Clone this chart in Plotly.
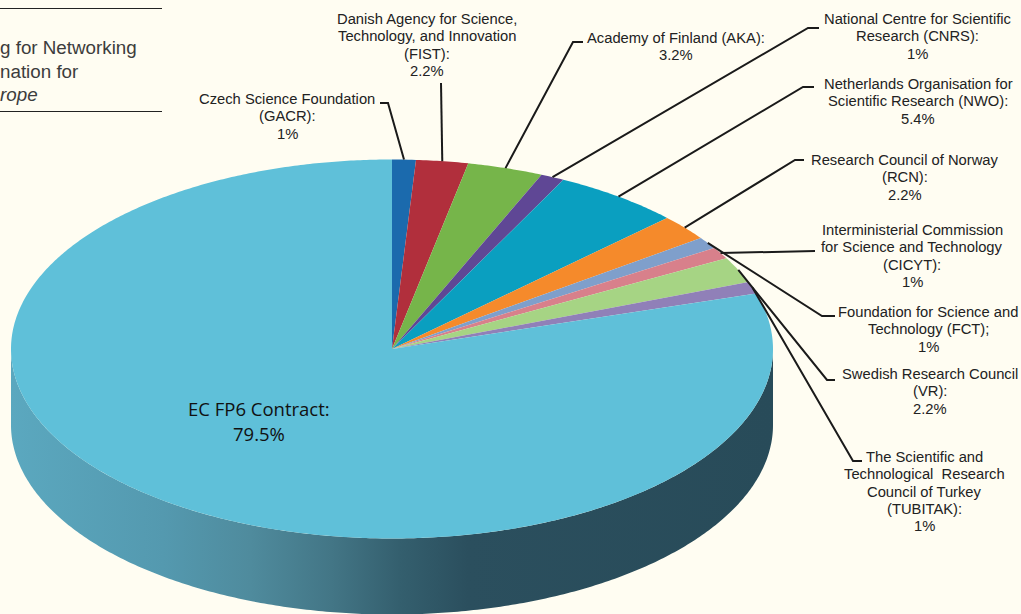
import numpy as np
import plotly.graph_objects as go

# ---- data ----
categories = ["Czech Science Foundation (GACR)", "Danish Agency for Science, Technology, and Innovation (FIST)",
              "Academy of Finland (AKA)", "National Centre for Scientific Research (CNRS)",
              "Netherlands Organisation for Scientific Research (NWO)", "Research Council of Norway (RCN)",
              "Interministerial Commission for Science and Technology (CICYT)",
              "Foundation for Science and Technology (FCT)", "Swedish Research Council (VR)",
              "The Scientific and Technological Research Council of Turkey (TUBITAK)", "EC FP6 Contract"]
values = [1, 2.2, 3.2, 1, 5.4, 2.2, 1, 1, 2.2, 1, 79.5]
label_texts = [
    ["Czech Science Foundation", "(GACR):", "1%"],
    ["Danish Agency for Science,", "Technology, and Innovation", "(FIST):", "2.2%"],
    ["Academy of Finland (AKA):", "3.2%"],
    ["National Centre for Scientific", "Research (CNRS):", "1%"],
    ["Netherlands Organisation for", "Scientific Research (NWO):", "5.4%"],
    ["Research Council of Norway", "(RCN):", "2.2%"],
    ["Interministerial Commission", "for Science and Technology", "(CICYT):", "1%"],
    ["Foundation for Science and", "Technology (FCT);", "1%"],
    ["Swedish Research Council", "(VR):", "2.2%"],
    ["The Scientific and", "Technological&nbsp; Research", "Council of Turkey", "(TUBITAK):", "1%"],
]
center_label = ["EC FP6 Contract:", "79.5%"]
sidebar_lines = ["g for Networking", "nation for", "<i>rope</i>"]

# ---- styles and layout ----
colors = ["#1b6aad", "#b12f3c", "#76b54a", "#5f4795", "#0a9fc0", "#f58a2b",
          "#7f9fcb", "#d8808b", "#a6d484", "#9080b8", "#5fc0d9"]
BG = "#fffdf2"
CX, CY, RX, RY, DEPTH = 392, 349, 381, 189.5, 76
side_scale = [[0, "#5ba8bf"], [0.2, "#5499af"], [0.314, "#4f8b9d"], [0.42, "#437686"],
              [0.51, "#345f6e"], [0.6, "#2b4f5e"], [1, "#284b59"]]
LINE_GAP = 17.3
label_pos = [(287, 99), (427, 19), (676, 38), (917, 19), (918, 84), (905, 160),
             (912, 230), (928, 312), (930, 374), (924, 457)]
# elbow polyline outside the pie; slice on whose rim the leader lands
leader_tail = [[(380, 103), (388, 103)], [(441, 83)], [(583, 42), (573, 42)], [(819, 28), (808, 28)],
               [(814, 87), (803, 87)], [(804, 160), (795, 160)], [(815, 251)],
               [(835, 316), (822, 316)], [(835, 380), (827, 380)], [(862, 461), (853, 461)]]
leader_slice = [0, 1, 2, 3, 4, 5, 7, 6, 8, 9]

# ---- geometry derived from values ----
edges = np.cumsum([0] + values) / sum(values) * 2 * np.pi


def rim(t):
    return CX + RX * np.sin(t), CY - RY * np.cos(t)


fig = go.Figure()

# side wall (lower half of the ellipse, extruded)
t_low = np.linspace(np.pi / 2, 3 * np.pi / 2, 300)
x_low, y_low = rim(t_low)
fig.add_trace(go.Scatter(
    x=np.r_[x_low, x_low[::-1]], y=np.r_[y_low, (y_low + DEPTH)[::-1]],
    mode="none", fill="toself", hoverinfo="skip", fillcolor="#3f7283",
    fillgradient=dict(type="horizontal", colorscale=side_scale)))

# top face
for i, name in enumerate(categories):
    t = np.linspace(edges[i], edges[i + 1], max(4, int((edges[i + 1] - edges[i]) * 120)))
    xr, yr = rim(t)
    fig.add_trace(go.Scatter(
        x=np.r_[CX, xr, CX], y=np.r_[CY, yr, CY], name=name, mode="none",
        fill="toself", fillcolor=colors[i], hoverinfo="name"))

# leaders
for i, tail in enumerate(leader_tail):
    k = leader_slice[i]
    sx, sy = rim((edges[k] + edges[k + 1]) / 2)
    xs = [p[0] for p in tail] + [float(sx)]
    ys = [p[1] for p in tail] + [float(sy)]
    fig.add_trace(go.Scatter(x=xs, y=ys, mode="lines", hoverinfo="skip",
                             line=dict(color="#1a1a1a", width=2)))

annotations = []


def put(txt, x, y, anchor, family, size, color, xshift=0):
    annotations.append(dict(x=x, y=y, xref="x", yref="y", text=txt, showarrow=False,
                            xanchor=anchor, yanchor="middle", xshift=xshift,
                            font=dict(family=family, size=size, color=color)))


for lines, (x, y) in zip(label_texts, label_pos):
    for j, line in enumerate(lines):
        put(line, x, y + j * LINE_GAP, "center", "Liberation Sans", 14.75, "#222222")
for j, line in enumerate(center_label):
    put(line, 259, 408 + j * 25, "center", "Open Sans", 18.5, "#111111")
for txt, y in zip(sidebar_lines, (47, 71, 94)):
    put(txt, 0, y, "left", "Liberation Sans", 18.8, "#3c3c3c", xshift=-2)

shapes = [dict(type="line", x0=0, x1=162, y0=y, y1=y, xref="x", yref="y",
               line=dict(color="#222222", width=1)) for y in (8.5, 111.5)]

fig.update_layout(
    width=1021, height=614, margin=dict(l=0, r=0, t=0, b=0), autosize=False,
    paper_bgcolor=BG, plot_bgcolor=BG, showlegend=False,
    xaxis=dict(range=[0, 1021], visible=False, fixedrange=True),
    yaxis=dict(range=[614, 0], visible=False, fixedrange=True),
    annotations=annotations, shapes=shapes)

fig.write_html("out.html", config=dict(displayModeBar=False),
               post_script="document.body.style.margin='0';document.body.style.overflow='hidden';")
